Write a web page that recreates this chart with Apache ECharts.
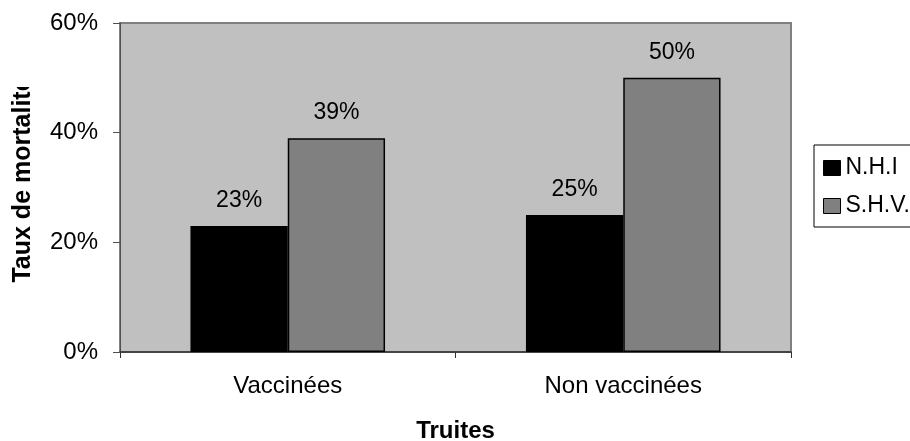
<!DOCTYPE html>
<html>
<head>
<meta charset="utf-8">
<script src="https://cdn.jsdelivr.net/npm/echarts@6/dist/echarts.min.js"></script>
<style>
  html, body { margin: 0; padding: 0; background: #ffffff; }
  #chart { width: 910px; height: 441px; }
</style>
</head>
<body>
<div id="chart"></div>
<script>
// Mortality rate of trout, by vaccination status and disease
const categories = ['Vaccinées', 'Non vaccinées'];
const seriesNames = ['N.H.I', 'S.H.V.'];
const nhiValues = [0.23, 0.25];
const shvValues = [0.39, 0.50];
const yTicks = [0, 0.2, 0.4, 0.6];

const FONT = "'Liberation Sans', Arial, sans-serif";
const pct = v => Math.round(v * 100) + '%';

const chart = echarts.init(document.getElementById('chart'), null, { renderer: 'canvas' });

const barLabel = {
  show: true,
  position: 'top',
  distance: 14,
  color: '#000',
  fontFamily: FONT,
  fontSize: 23,
  formatter: p => pct(p.value)
};

chart.setOption({
  backgroundColor: '#ffffff',
  animation: false,
  grid: {
    left: 120, top: 23, right: 119, bottom: 89,
    outerBoundsMode: 'none',
    containLabel: false,
    show: true,
    backgroundColor: '#C0C0C0',
    borderColor: '#808080',
    borderWidth: 2
  },
  legend: {
    orient: 'vertical',
    left: 814, top: 145,
    padding: [11, 40, 9, 9],
    itemGap: 14,
    itemWidth: 17,
    itemHeight: 15,
    borderColor: '#000',
    borderWidth: 1,
    backgroundColor: '#ffffff',
    textStyle: { fontFamily: FONT, fontSize: 23, color: '#000', lineHeight: 24 },
    data: seriesNames.map((n, i) => ({
      name: n,
      icon: 'rect',
      itemStyle: { color: i === 0 ? '#000000' : '#808080', borderColor: '#000', borderWidth: 1 }
    }))
  },
  xAxis: {
    type: 'category',
    data: categories,
    name: 'Truites',
    nameLocation: 'middle',
    nameGap: 67,
    nameMoveOverlap: false,
    nameTextStyle: { fontFamily: FONT, fontSize: 24, fontWeight: 'bold', color: '#000' },
    axisLine: { lineStyle: { color: '#303030', width: 1.5 } },
    axisTick: { show: true, alignWithLabel: false, length: 6, lineStyle: { color: '#303030' } },
    axisLabel: { margin: 22, fontFamily: FONT, fontSize: 24, color: '#000' }
  },
  yAxis: {
    type: 'value',
    min: yTicks[0],
    max: yTicks[yTicks.length - 1],
    interval: yTicks[1] - yTicks[0],
    axisLine: { show: true, lineStyle: { color: '#505050', width: 1 } },
    axisTick: { show: true, length: 7, lineStyle: { color: '#505050' } },
    splitLine: { show: false },
    axisLabel: { margin: 22, fontFamily: FONT, fontSize: 24, color: '#000', formatter: pct }
  },
  graphic: [
    {
      type: 'text',
      x: 23, y: 180,
      rotation: Math.PI / 2,
      z: 10,
      style: {
        text: 'Taux de mortalité',
        fontFamily: FONT,
        fontSize: 25,
        fontWeight: 'bold',
        fill: '#000',
        align: 'center',
        verticalAlign: 'middle'
      }
    },
    {
      type: 'rect',
      z: 11,
      shape: { x: 0, y: 0, width: 45, height: 87 },
      style: { fill: '#ffffff' }
    }
  ],
  series: [
    {
      name: seriesNames[0],
      type: 'bar',
      data: nhiValues,
      barGap: '0%',
      barCategoryGap: '42%',
      itemStyle: { color: '#000000', borderColor: '#000', borderWidth: 1.5 },
      label: barLabel
    },
    {
      name: seriesNames[1],
      type: 'bar',
      data: shvValues,
      itemStyle: { color: '#808080', borderColor: '#000', borderWidth: 1.5 },
      label: barLabel
    }
  ]
});
</script>
</body>
</html>
